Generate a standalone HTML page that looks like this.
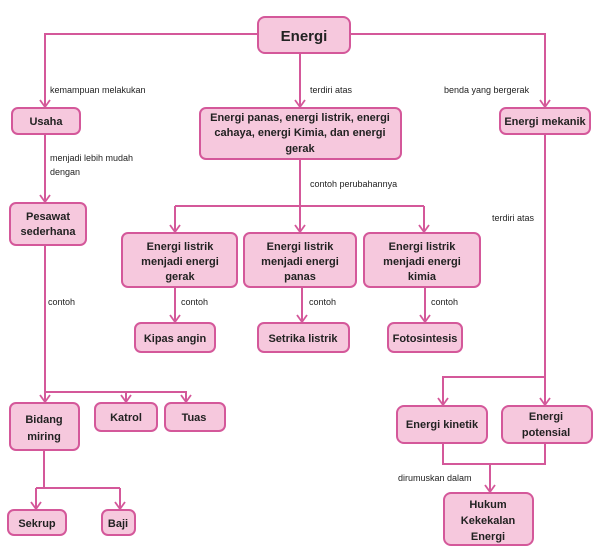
<!DOCTYPE html>
<html><head><meta charset="utf-8"><style>
html,body{margin:0;padding:0;background:#fff;}
svg{display:block}
text{font-family:"Liberation Sans",sans-serif;fill:#222;}
.b{fill:#f6c8dd;stroke:#d4589a;stroke-width:2;}
.t{font-size:11px;font-weight:bold;text-anchor:middle;}
.l{font-size:9px;}
.ln{stroke:#d4589a;stroke-width:2;fill:none;}
</style></head><body>
<svg width="605" height="560" viewBox="0 0 605 560" xmlns="http://www.w3.org/2000/svg">
<defs><marker id="a" markerWidth="12" markerHeight="12" refX="9" refY="6" orient="auto" markerUnits="userSpaceOnUse">
<path d="M2,1 L9,6 L2,11" fill="none" stroke="#d4589a" stroke-width="1.8"/></marker></defs>
<path class="ln" d="M258,34 H45 V107" marker-end="url(#a)"/>
<path class="ln" d="M350,34 H545 V107" marker-end="url(#a)"/>
<path class="ln" d="M300,53 V107" marker-end="url(#a)"/>
<path class="ln" d="M45,134 V202" marker-end="url(#a)"/>
<path class="ln" d="M300,159 V206"/>
<path class="ln" d="M175,206 H424"/>
<path class="ln" d="M175,206 V232" marker-end="url(#a)"/>
<path class="ln" d="M300,206 V232" marker-end="url(#a)"/>
<path class="ln" d="M424,206 V232" marker-end="url(#a)"/>
<path class="ln" d="M175,287 V322" marker-end="url(#a)"/>
<path class="ln" d="M302,287 V322" marker-end="url(#a)"/>
<path class="ln" d="M425,287 V322" marker-end="url(#a)"/>
<path class="ln" d="M45,245 V402" marker-end="url(#a)"/>
<path class="ln" d="M45,392 H186 V402" marker-end="url(#a)"/>
<path class="ln" d="M126,392 V402" marker-end="url(#a)"/>
<path class="ln" d="M44,450 V488"/>
<path class="ln" d="M36,488 H120"/>
<path class="ln" d="M36,488 V509" marker-end="url(#a)"/>
<path class="ln" d="M120,488 V509" marker-end="url(#a)"/>
<path class="ln" d="M545,134 V405" marker-end="url(#a)"/>
<path class="ln" d="M545,377 H443 V405" marker-end="url(#a)"/>
<path class="ln" d="M443,443 V464 H545 V443"/>
<path class="ln" d="M490,464 V492" marker-end="url(#a)"/>
<rect class="b" x="258" y="17" width="92" height="36" rx="7"/>
<text class="t" x="304" y="41" style="font-size:15px">Energi</text>
<rect class="b" x="12" y="108" width="68" height="26" rx="6"/>
<text class="t" x="46" y="125">Usaha</text>
<rect class="b" x="200" y="108" width="201" height="51" rx="6"/>
<text class="t" x="300" y="121">Energi panas, energi listrik, energi</text>
<text class="t" x="300" y="136">cahaya, energi Kimia, dan energi</text>
<text class="t" x="300" y="152">gerak</text>
<rect class="b" x="500" y="108" width="90" height="26" rx="6"/>
<text class="t" x="545" y="125">Energi mekanik</text>
<rect class="b" x="10" y="203" width="76" height="42" rx="6"/>
<text class="t" x="48" y="220">Pesawat</text>
<text class="t" x="48" y="235">sederhana</text>
<rect class="b" x="122" y="233" width="115" height="54" rx="6"/>
<text class="t" x="180" y="250">Energi listrik</text>
<text class="t" x="180" y="265">menjadi energi</text>
<text class="t" x="180" y="280">gerak</text>
<rect class="b" x="244" y="233" width="112" height="54" rx="6"/>
<text class="t" x="300" y="250">Energi listrik</text>
<text class="t" x="300" y="265">menjadi energi</text>
<text class="t" x="300" y="280">panas</text>
<rect class="b" x="364" y="233" width="116" height="54" rx="6"/>
<text class="t" x="422" y="250">Energi listrik</text>
<text class="t" x="422" y="265">menjadi energi</text>
<text class="t" x="422" y="280">kimia</text>
<rect class="b" x="135" y="323" width="80" height="29" rx="6"/>
<text class="t" x="175" y="342">Kipas angin</text>
<rect class="b" x="258" y="323" width="91" height="29" rx="6"/>
<text class="t" x="303" y="342">Setrika listrik</text>
<rect class="b" x="388" y="323" width="74" height="29" rx="6"/>
<text class="t" x="425" y="342">Fotosintesis</text>
<rect class="b" x="10" y="403" width="69" height="47" rx="6"/>
<text class="t" x="44" y="423">Bidang</text>
<text class="t" x="44" y="440">miring</text>
<rect class="b" x="95" y="403" width="62" height="28" rx="6"/>
<text class="t" x="126" y="421">Katrol</text>
<rect class="b" x="165" y="403" width="60" height="28" rx="6"/>
<text class="t" x="194" y="421">Tuas</text>
<rect class="b" x="8" y="510" width="58" height="25" rx="6"/>
<text class="t" x="37" y="527">Sekrup</text>
<rect class="b" x="102" y="510" width="33" height="25" rx="6"/>
<text class="t" x="118" y="527">Baji</text>
<rect class="b" x="397" y="406" width="90" height="37" rx="7"/>
<text class="t" x="442" y="428">Energi kinetik</text>
<rect class="b" x="502" y="406" width="90" height="37" rx="7"/>
<text class="t" x="546" y="420">Energi</text>
<text class="t" x="546" y="436">potensial</text>
<rect class="b" x="444" y="493" width="89" height="52" rx="7"/>
<text class="t" x="488" y="508">Hukum</text>
<text class="t" x="488" y="524">Kekekalan</text>
<text class="t" x="488" y="540">Energi</text>
<text class="l" x="50" y="93">kemampuan melakukan</text>
<text class="l" x="310" y="93">terdiri atas</text>
<text class="l" x="444" y="93">benda yang bergerak</text>
<text class="l" x="50" y="161">menjadi lebih mudah</text>
<text class="l" x="50" y="175">dengan</text>
<text class="l" x="310" y="187">contoh perubahannya</text>
<text class="l" x="492" y="221">terdiri atas</text>
<text class="l" x="48" y="305">contoh</text>
<text class="l" x="181" y="305">contoh</text>
<text class="l" x="309" y="305">contoh</text>
<text class="l" x="431" y="305">contoh</text>
<text class="l" x="398" y="481">dirumuskan dalam</text>
</svg>
</body></html>
